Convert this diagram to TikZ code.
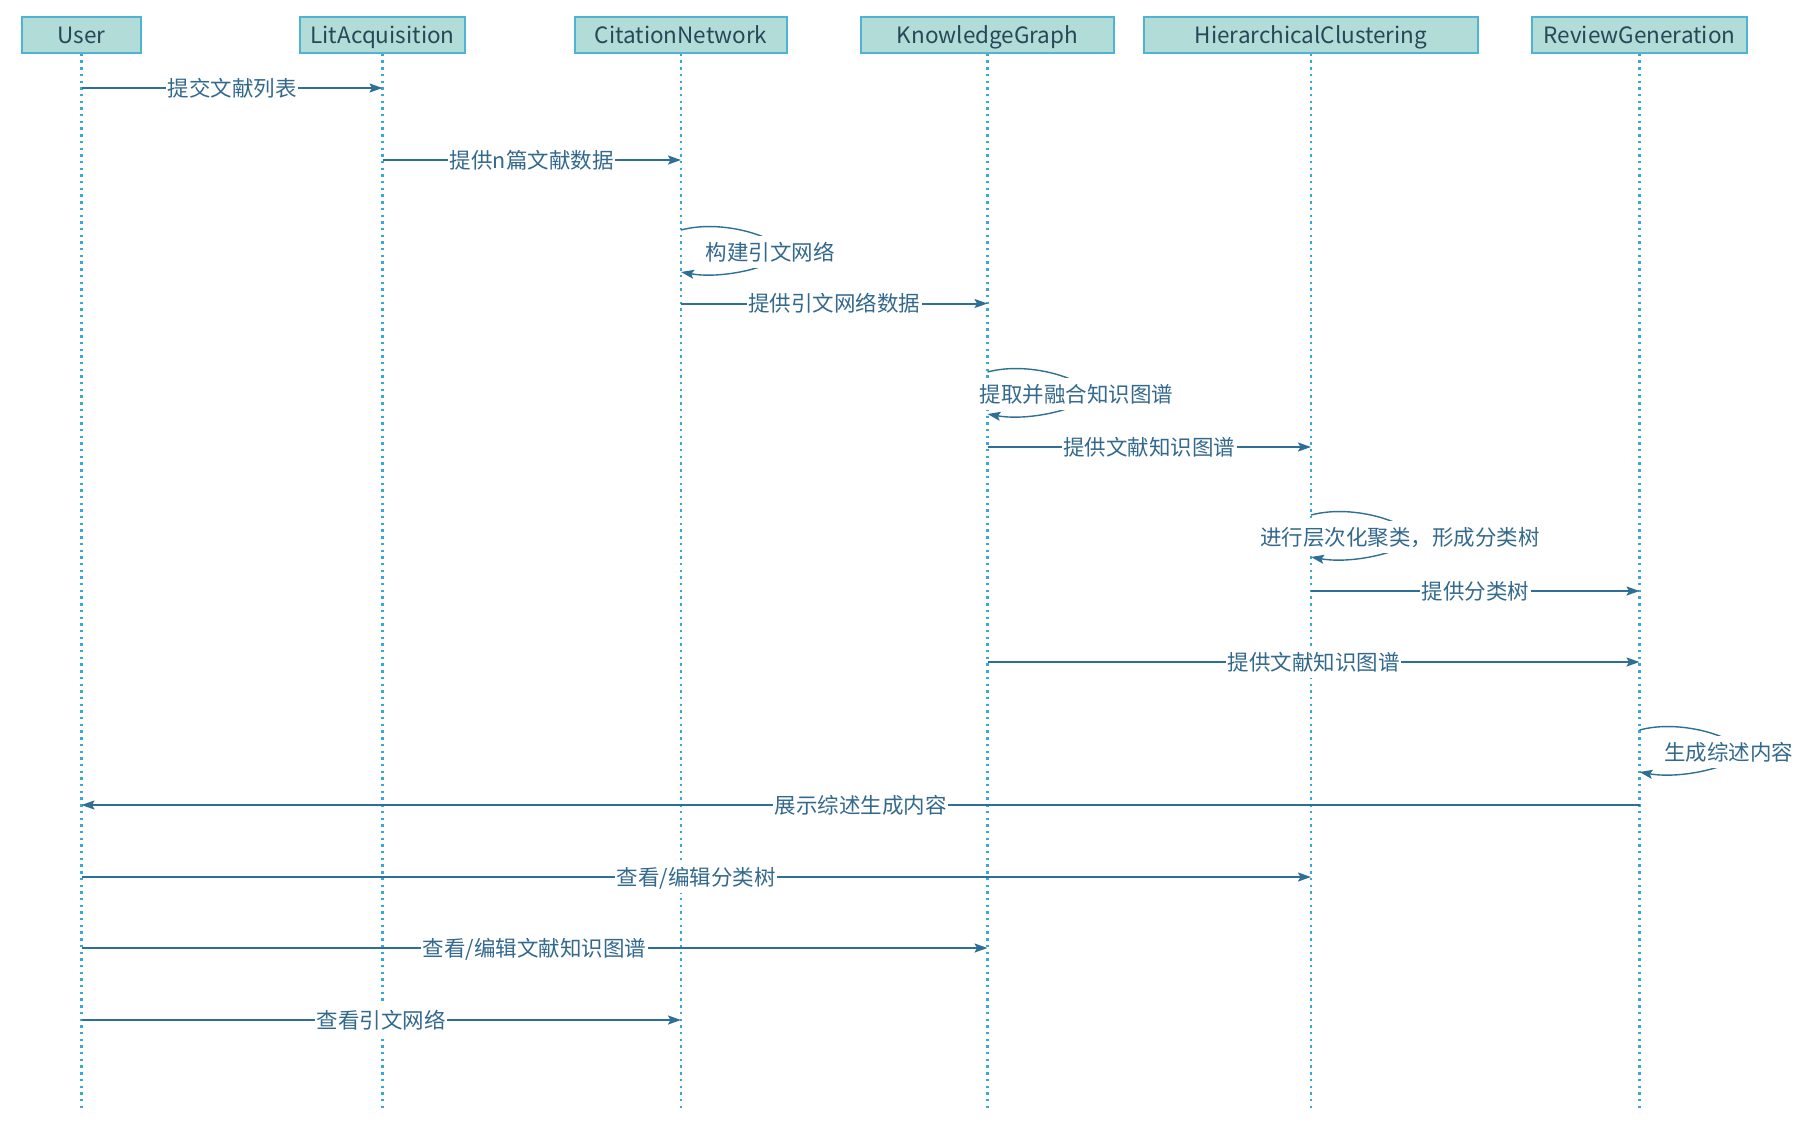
\documentclass[tikz,border=0pt]{standalone}
\usepackage{fontspec}
\setmainfont{Noto Sans CJK SC}
\usetikzlibrary{arrows.meta,calc}
\definecolor{hdrfill}{HTML}{B1DCD8}
\definecolor{hdrline}{HTML}{4FB3D3}
\definecolor{hdrtext}{HTML}{284858}
\definecolor{lifeln}{HTML}{3AA8D6}
\definecolor{msg}{HTML}{2E6F96}
\definecolor{msgtext}{HTML}{33698D}

\begin{document}
\begin{tikzpicture}[x=1pt,y=-1pt,
  actor/.style={draw=hdrline, line width=1.5pt, fill=hdrfill, text=hdrtext,
    minimum height=36pt, inner sep=0pt, text height=19pt, text depth=1.5pt,
    font=\fontsize{22.5}{26}\selectfont},
  lifeline/.style={draw=lifeln, line width=2.4pt, dash pattern=on 2.4pt off 4.3pt},
  msgline/.style={draw=msg, line width=2pt,
    -{Stealth[length=13pt,width=9pt,inset=2.5pt]}},
  loopline/.style={draw=msg, line width=1.4pt,
    -{Stealth[length=13pt,width=9pt,inset=2.5pt]}},
  msglabel/.style={fill=white, text=msgtext, inner xsep=1.5pt, inner ysep=0pt,
    text height=24.2pt, text depth=7.8pt, font=\fontsize{21.5}{26}\selectfont},
]
\useasboundingbox (0,0) rectangle (1796,1125);

% participants
\node[actor, minimum width=119pt] (u) at (81.5,35) {User};
\node[actor, minimum width=165pt] (l) at (382.5,35) {LitAcquisition};
\node[actor, minimum width=212pt] (c) at (681,35) {CitationNetwork};
\node[actor, minimum width=253pt] (k) at (987.5,35) {KnowledgeGraph};
\node[actor, minimum width=334pt] (h) at (1311,35) {HierarchicalClustering};
\node[actor, minimum width=215pt] (r) at (1639.5,35) {ReviewGeneration};

% lifeline ends
\coordinate (bottom) at (0,1111);
\foreach \p in {u,l,c,k,h,r}{
  \draw[lifeline] (\p.south) -- (\p |- bottom);
}

% message rows
\coordinate (r1) at (0,88);
\coordinate (r2) at (0,160);
\coordinate (r3) at (0,252);
\coordinate (r4) at (0,303.5);
\coordinate (r5) at (0,394);
\coordinate (r6) at (0,447);
\coordinate (r7) at (0,537);
\coordinate (r8) at (0,591);
\coordinate (r9) at (0,662);
\coordinate (r10) at (0,752);
\coordinate (r11) at (0,805);
\coordinate (r12) at (0,877);
\coordinate (r13) at (0,948);
\coordinate (r14) at (0,1020);

% self call: lifeline, row, label
\newcommand\selfcall[3]{%
  \draw[loopline] ($(#1 |- #2)+(0,-22)$)
    .. controls +(45,-12) and +(0,-12) .. ($(#1 |- #2)+(102,0)$)
    .. controls +(0,12) and +(45,8) .. ($(#1 |- #2)+(0,20)$);
  \node[msglabel] at ($(#1 |- #2)+(89,0)$) {#3};
}

\draw[msgline] (u |- r1) -- node[msglabel] {提交文献列表} (l |- r1);
\draw[msgline] (l |- r2) -- node[msglabel] {提供n篇文献数据} (c |- r2);
\selfcall{c}{r3}{构建引文网络}
\draw[msgline] (c |- r4) -- node[msglabel] {提供引文网络数据} (k |- r4);
\selfcall{k}{r5}{提取并融合知识图谱}
\draw[msgline] (k |- r6) -- node[msglabel] {提供文献知识图谱} (h |- r6);
\selfcall{h}{r7}{进行层次化聚类，形成分类树}
\draw[msgline] (h |- r8) -- node[msglabel] {提供分类树} (r |- r8);
\draw[msgline] (k |- r9) -- node[msglabel] {提供文献知识图谱} (r |- r9);
\selfcall{r}{r10}{生成综述内容}
\draw[msgline] (r |- r11) -- node[msglabel] {展示综述生成内容} (u |- r11);
\draw[msgline] (u |- r12) -- node[msglabel] {查看/编辑分类树} (h |- r12);
\draw[msgline] (u |- r13) -- node[msglabel] {查看/编辑文献知识图谱} (k |- r13);
\draw[msgline] (u |- r14) -- node[msglabel] {查看引文网络} (c |- r14);
\end{tikzpicture}
\end{document}
